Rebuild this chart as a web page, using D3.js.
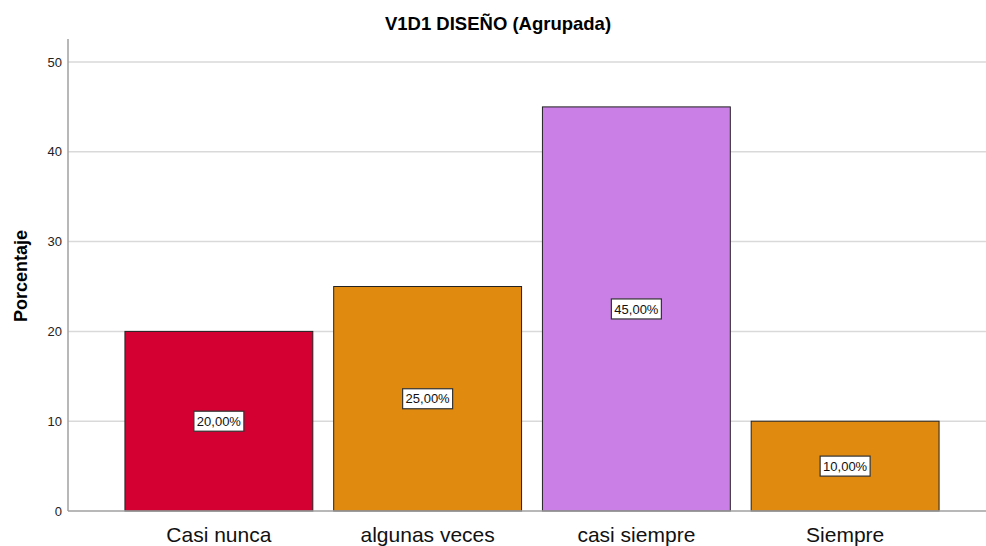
<!DOCTYPE html>
<html><head><meta charset="utf-8">
<script src="https://cdn.jsdelivr.net/npm/d3@7"></script>
<style>body{margin:0;background:#fff}svg{display:block}</style>
</head><body><svg id="c" width="986" height="546"></svg>
<script>
const categories = ["Casi nunca", "algunas veces", "casi siempre", "Siempre"];
const values = [20, 25, 45, 10];
const labels = ["20,00%", "25,00%", "45,00%", "10,00%"];
const colors = ["#d50032", "#e08a0f", "#c97fe5", "#e08a0f"];
const yTicks = [0, 10, 20, 30, 40, 50];
const title = "V1D1 DISEÑO (Agrupada)";
const yTitle = "Porcentaje";

const svg = d3.select("#c");
const font = "'Liberation Sans', Arial, sans-serif";
const x0 = 68, x1 = 986, yTop = 39;
const x = d3.scaleBand().domain(categories).range([114.5, 949.5]).paddingInner(0.1).paddingOuter(0.05);
const y = d3.scaleLinear().domain([0, 50]).range([511, 62]);

// gridlines
svg.append("g").selectAll("line").data(yTicks.filter(d => d > 0)).join("line")
  .attr("x1", x0).attr("x2", x1).attr("y1", d => y(d)).attr("y2", d => y(d))
  .attr("stroke", "#d9d9d9").attr("stroke-width", 1.5);

// y axis
const yAxis = d3.axisLeft(y).tickValues(yTicks).tickSize(0).tickPadding(6);
const gy = svg.append("g").attr("transform", `translate(${x0},0)`).call(yAxis);
gy.select(".domain").remove();
gy.selectAll("text").attr("font-family", font).attr("font-size", 13).attr("fill", "#222");
svg.append("line").attr("x1", x0).attr("x2", x0).attr("y1", yTop).attr("y2", y(0))
  .attr("stroke", "#a0a0a0").attr("stroke-width", 1.5);

// bars
svg.append("g").selectAll("rect").data(values).join("rect")
  .attr("x", (d, i) => x(categories[i])).attr("width", x.bandwidth())
  .attr("y", d => y(d)).attr("height", d => y(0) - y(d))
  .attr("fill", (d, i) => colors[i]).attr("stroke", "#222").attr("stroke-width", 1);

// baseline
svg.append("line").attr("x1", x0).attr("x2", x1).attr("y1", y(0)).attr("y2", y(0))
  .attr("stroke", "#a0a0a0").attr("stroke-width", 1.5);

// x axis labels
const xAxis = d3.axisBottom(x).tickSize(0).tickPadding(0);
const gx = svg.append("g").attr("transform", `translate(0,${y(0)})`).call(xAxis);
gx.select(".domain").remove();
gx.selectAll("text").attr("font-family", font).attr("font-size", 21).attr("fill", "#111")
  .attr("dy", null).attr("y", 31);

// value labels
const lg = svg.append("g").selectAll("g").data(values).join("g")
  .attr("transform", (d, i) => `translate(${x(categories[i]) + x.bandwidth() / 2},${y(d / 2)})`);
lg.append("rect").attr("x", -25).attr("y", -10).attr("width", 50).attr("height", 20)
  .attr("fill", "#fff").attr("stroke", "#333").attr("stroke-width", 1.2);
lg.append("text").text((d, i) => labels[i]).attr("text-anchor", "middle").attr("dy", "0.36em")
  .attr("font-family", font).attr("font-size", 13).attr("fill", "#111");

// titles
svg.append("text").attr("x", 498).attr("y", 30).attr("text-anchor", "middle")
  .attr("font-family", font).attr("font-size", 18.5).attr("font-weight", "bold").text(title);
svg.append("text").attr("transform", "translate(27,276) rotate(-90)").attr("text-anchor", "middle")
  .attr("font-family", font).attr("font-size", 18).attr("font-weight", "bold").text(yTitle);
</script></body></html>
